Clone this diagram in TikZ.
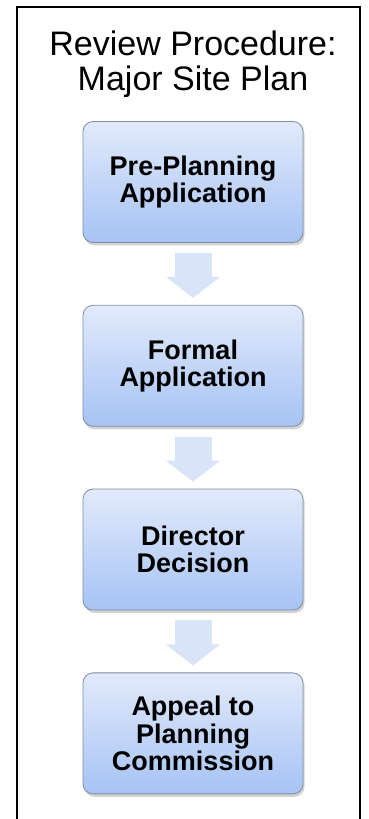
\documentclass[tikz,border=0pt]{standalone}
\usepackage{fontspec}
\setmainfont{Liberation Sans}
\usetikzlibrary{arrows.meta, positioning, shadows}
\definecolor{boxtop}{HTML}{E2EAFB}
\definecolor{boxbottom}{HTML}{A6C3F4}
\definecolor{boxline}{HTML}{7F8DA3}
\definecolor{arrowfill}{HTML}{D9E4F8}
\tikzstyle{heading} = [align=center, inner sep=0pt, font=\fontsize{34}{35}\selectfont]
\tikzstyle{stage} = [rectangle, rounded corners=10pt, minimum width=220pt, minimum height=121pt, align=center, draw=boxline, line width=0.8pt, top color=boxtop, bottom color=boxbottom, drop shadow={shadow xshift=1.5pt, shadow yshift=-3pt, opacity=0.35}, font=\bfseries\fontsize{27}{27.5}\selectfont]
\tikzstyle{flow} = [line width=37pt, draw=arrowfill, -{Triangle[width=53pt, length=21pt]}, shorten <=10pt, shorten >=7pt]

\begin{document}
\begin{tikzpicture}[x=1pt, y=1pt, node distance=62pt]
\useasboundingbox (0,0) rectangle (368,819);

% Frame
\draw [line width=1.5pt] (17,-5) -- (17,812) -- (360,812) -- (360,-5);

% Nodes
\node (prePlanning) [stage] at (193,637) {Pre-Planning\\Application};
\node (heading) [heading, above=23pt of prePlanning] {Review Procedure:\\Major Site Plan};
\node (formal) [stage, below=of prePlanning] {Formal\\Application};
\node (director) [stage, below=of formal] {Director\\Decision};
\node (appeal) [stage, below=of director] {Appeal to\\Planning\\Commission};

% Arrows
\draw [flow] (prePlanning) -- (formal);
\draw [flow] (formal) -- (director);
\draw [flow] (director) -- (appeal);

\end{tikzpicture}
\end{document}
